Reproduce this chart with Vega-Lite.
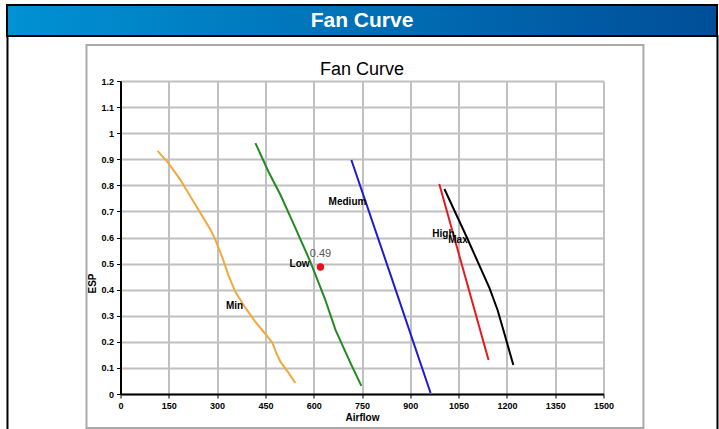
{
  "$schema": "https://vega.github.io/schema/vega-lite/v6.json",
  "background": "white",
  "padding": {"left": 6, "top": 4, "right": 0, "bottom": 0},
  "bounds": "flush",
  "center": true,
  "spacing": 45,
  "datasets": {
    "curves": [
      {"series": "Min", "airflow": 115, "esp": 0.932},
      {"series": "Min", "airflow": 146, "esp": 0.890},
      {"series": "Min", "airflow": 186, "esp": 0.821},
      {"series": "Min", "airflow": 233, "esp": 0.725},
      {"series": "Min", "airflow": 280, "esp": 0.629},
      {"series": "Min", "airflow": 295, "esp": 0.590},
      {"series": "Min", "airflow": 317, "esp": 0.521},
      {"series": "Min", "airflow": 335, "esp": 0.456},
      {"series": "Min", "airflow": 357, "esp": 0.391},
      {"series": "Min", "airflow": 388, "esp": 0.330},
      {"series": "Min", "airflow": 419, "esp": 0.276},
      {"series": "Min", "airflow": 450, "esp": 0.230},
      {"series": "Min", "airflow": 472, "esp": 0.196},
      {"series": "Min", "airflow": 484, "esp": 0.157},
      {"series": "Min", "airflow": 497, "esp": 0.123},
      {"series": "Min", "airflow": 522, "esp": 0.081},
      {"series": "Min", "airflow": 543, "esp": 0.042},
      {"series": "Low", "airflow": 419, "esp": 0.962},
      {"series": "Low", "airflow": 460, "esp": 0.851},
      {"series": "Low", "airflow": 497, "esp": 0.763},
      {"series": "Low", "airflow": 543, "esp": 0.637},
      {"series": "Low", "airflow": 590, "esp": 0.506},
      {"series": "Low", "airflow": 634, "esp": 0.368},
      {"series": "Low", "airflow": 668, "esp": 0.245},
      {"series": "Low", "airflow": 714, "esp": 0.119},
      {"series": "Low", "airflow": 748, "esp": 0.031},
      {"series": "Medium", "airflow": 717, "esp": 0.897},
      {"series": "Medium", "airflow": 839, "esp": 0.456},
      {"series": "Medium", "airflow": 963, "esp": 0.004},
      {"series": "High", "airflow": 990, "esp": 0.805},
      {"series": "High", "airflow": 1143, "esp": 0.130},
      {"series": "Max", "airflow": 1006, "esp": 0.786},
      {"series": "Max", "airflow": 1075, "esp": 0.602},
      {"series": "Max", "airflow": 1146, "esp": 0.406},
      {"series": "Max", "airflow": 1171, "esp": 0.322},
      {"series": "Max", "airflow": 1189, "esp": 0.245},
      {"series": "Max", "airflow": 1205, "esp": 0.176},
      {"series": "Max", "airflow": 1220, "esp": 0.111}
    ],
    "labels": [
      {"label": "Min", "airflow": 354, "esp": 0.337},
      {"label": "Low", "airflow": 556, "esp": 0.498},
      {"label": "Medium", "airflow": 705, "esp": 0.736},
      {"label": "High", "airflow": 1003, "esp": 0.613},
      {"label": "Max", "airflow": 1048, "esp": 0.590}
    ],
    "point": [
      {"airflow": 621, "esp": 0.487, "value": "0.49"}
    ]
  },
  "vconcat": [
    {
      "width": 710,
      "height": 31,
      "view": {
        "fill": {"gradient": "linear", "x1": 0, "y1": 0, "x2": 1, "y2": 0,
          "stops": [{"offset": 0, "color": "#0092d4"}, {"offset": 1, "color": "#004e98"}]},
        "stroke": "black",
        "strokeWidth": 2
      },
      "data": {"values": [{"t": "Fan Curve"}]},
      "mark": {"type": "text", "font": "Liberation Sans", "fontSize": 21, "fontWeight": "bold", "color": "white", "baseline": "middle", "align": "center"},
      "encoding": {"text": {"field": "t", "type": "nominal"}}
    },
    {
      "width": 483,
      "height": 313,
      "title": {"text": "Fan Curve", "fontSize": 18, "fontWeight": "normal", "font": "Liberation Sans", "color": "black", "offset": -44, "anchor": "middle", "frame": "group"},
      "view": {"stroke": null},
      "layer": [
        {
          "data": {"name": "curves"},
          "mark": {"type": "line", "strokeWidth": 2},
          "encoding": {
            "x": {"field": "airflow", "type": "quantitative",
              "scale": {"domain": [0, 1500], "nice": false, "zero": false},
              "axis": {"values": [0, 150, 300, 450, 600, 750, 900, 1050, 1200, 1350, 1500], "tickCount": 11, "format": "d", "title": "Airflow",
                "labelFont": "Liberation Sans", "labelFontWeight": "bold", "labelFontSize": 9, "labelColor": "black",
                "tickColor": "black", "tickSize": 4, "labelPadding": 3, "domainColor": "black", "domainWidth": 2,
                "gridColor": "#c0c0c0", "gridWidth": 2, "titleFont": "Liberation Sans", "titleFontSize": 10, "titleFontWeight": "bold",
                "titleColor": "black", "titlePadding": 2, "labelFlush": false, "labelOverlap": false}},
            "y": {"field": "esp", "type": "quantitative",
              "scale": {"domain": [0, 1.2], "nice": false, "zero": false},
              "axis": {"values": [0, 0.1, 0.2, 0.3, 0.4, 0.5, 0.6, 0.7, 0.8, 0.9, 1, 1.1, 1.2], "tickCount": 13, "format": "~g", "title": "ESP",
                "labelFont": "Liberation Sans", "labelFontWeight": "bold", "labelFontSize": 9, "labelColor": "black",
                "tickColor": "black", "tickSize": 4, "labelPadding": 3, "domainColor": "black", "domainWidth": 2,
                "gridColor": "#c0c0c0", "gridWidth": 2, "titleFont": "Liberation Sans", "titleFontSize": 10, "titleFontWeight": "bold",
                "titleColor": "black", "titleX": -28.5, "titleY": 202, "titleBaseline": "middle", "titleAlign": "center",
                "labelFlush": false, "labelOverlap": false}},
            "color": {"field": "series", "type": "nominal",
              "scale": {"domain": ["Min", "Low", "Medium", "High", "Max"], "range": ["#f2a93b", "#248a24", "#1c1cd4", "#e61a1e", "#000000"]},
              "legend": null}
          }
        },
        {
          "data": {"name": "point"},
          "mark": {"type": "point", "filled": true, "color": "#e8101a", "size": 55, "opacity": 1},
          "encoding": {
            "x": {"field": "airflow", "type": "quantitative"},
            "y": {"field": "esp", "type": "quantitative"}
          }
        },
        {
          "data": {"name": "point"},
          "mark": {"type": "text", "font": "Liberation Sans", "fontSize": 11, "color": "#555555", "dy": -13, "baseline": "middle"},
          "encoding": {
            "x": {"field": "airflow", "type": "quantitative"},
            "y": {"field": "esp", "type": "quantitative"},
            "text": {"field": "value", "type": "nominal"}
          }
        },
        {
          "data": {"name": "labels"},
          "mark": {"type": "text", "font": "Liberation Sans", "fontSize": 10, "fontWeight": "bold", "color": "black", "baseline": "middle", "align": "center"},
          "encoding": {
            "x": {"field": "airflow", "type": "quantitative"},
            "y": {"field": "esp", "type": "quantitative"},
            "text": {"field": "label", "type": "nominal"}
          }
        },
        {
          "data": {"values": [{}]},
          "mark": {"type": "rect", "filled": false, "stroke": "#aaaaaa", "strokeWidth": 2},
          "encoding": {
            "x": {"datum": -105.6, "type": "quantitative"},
            "x2": {"datum": 1624},
            "y": {"datum": 1.338, "type": "quantitative"},
            "y2": {"datum": -0.13}
          }
        },
        {
          "data": {"values": [{}]},
          "mark": {"type": "rect", "filled": false, "stroke": "black", "strokeWidth": 2},
          "encoding": {
            "x": {"datum": -351, "type": "quantitative"},
            "x2": {"datum": 1854},
            "y": {"datum": 1.373, "type": "quantitative"},
            "y2": {"datum": -0.15}
          }
        }
      ]
    }
  ]
}
